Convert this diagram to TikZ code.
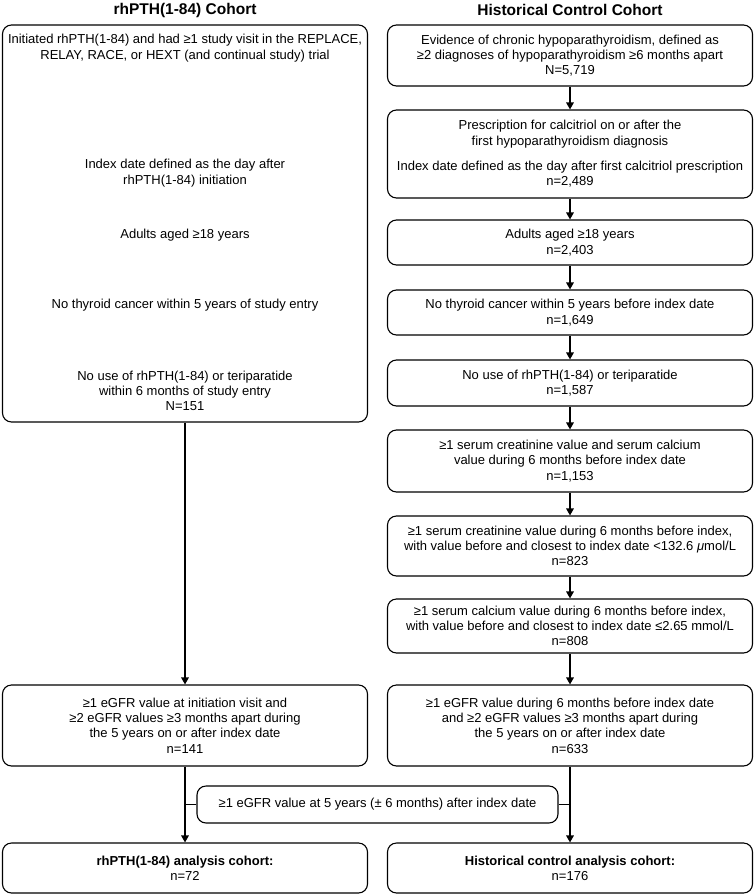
\documentclass[tikz,border=0pt]{standalone}
\usepackage{fontspec}
\setmainfont{Liberation Sans}
\usetikzlibrary{positioning, arrows.meta}

\begin{document}
\begin{tikzpicture}[x=1pt, y=-1pt, font=\fontsize{13}{15.3}\selectfont]

	\tikzstyle{head}=[font=\fontsize{15.5}{17}\selectfont\bfseries]
	\tikzstyle{box}=[draw, rounded corners=9pt, minimum width=365pt, inner sep=0pt, align=center, line width=1.1pt]
	\tikzstyle{txt}=[align=center, inner sep=0pt]
	\tikzstyle{arc}=[-{Triangle[length=7pt,width=7.5pt]}, line width=1.6pt]
	\tikzstyle{arc2}=[line width=1.6pt]

	\useasboundingbox (0,0) rectangle (755,894);

	% titres
	\node[head] (hl) at (185,10) {rhPTH(1-84) Cohort};
	\node[head] (hr) at (570,10) {Historical Control Cohort};

	% colonne gauche
	\node[box, minimum height=397pt] (lbig) at (185,223.5) {};
	\node[txt] (l1) at (185,48) {Initiated rhPTH(1-84) and had ≥1 study visit in the REPLACE,\\ RELAY, RACE, or HEXT (and continual study) trial};
	\node[txt] (l2) at (185,173) {Index date defined as the day after\\ rhPTH(1-84) initiation};
	\node[txt] (l3) at (185,235) {Adults aged ≥18 years};
	\node[txt] (l4) at (185,305) {No thyroid cancer within 5 years of study entry};
	\node[txt] (l5) at (185,391) {No use of rhPTH(1-84) or teriparatide\\ within 6 months of study entry\\ N=151};
	\node[box, minimum height=81pt] (l9) at (185,725.5) {≥1 eGFR value at initiation visit and\\ ≥2 eGFR values ≥3 months apart during\\ the 5 years on or after index date\\ n=141};
	\node[box, minimum height=50pt] (lfin) at (185,868) {\textbf{rhPTH(1-84) analysis cohort:}\\ n=72};

	% colonne droite
	\node[box, minimum height=61pt] (b1) at (570,55.5) {Evidence of chronic hypoparathyroidism, defined as\\ ≥2 diagnoses of hypoparathyroidism ≥6 months apart\\ N=5,719};
	\node[box, minimum height=88pt] (b2) at (570,154) {Prescription for calcitriol on or after the\\ first hypoparathyroidism diagnosis\\[10pt] Index date defined as the day after first calcitriol prescription\\ n=2,489};
	\node[box, minimum height=45pt] (b3) at (570,242.5) {Adults aged ≥18 years\\ n=2,403};
	\node[box, minimum height=45pt] (b4) at (570,312.5) {No thyroid cancer within 5 years before index date\\ n=1,649};
	\node[box, minimum height=46pt] (b5) at (570,383) {No use of rhPTH(1-84) or teriparatide\\ n=1,587};
	\node[box, minimum height=62pt] (b6) at (570,461) {≥1 serum creatinine value and serum calcium\\ value during 6 months before index date\\ n=1,153};
	\node[box, minimum height=60pt] (b7) at (570,546) {≥1 serum creatinine value during 6 months before index,\\ with value before and closest to index date <132.6 \textit{μ}mol/L\\ n=823};
	\node[box, minimum height=54pt] (b8) at (570,626) {≥1 serum calcium value during 6 months before index,\\ with value before and closest to index date ≤2.65 mmol/L\\ n=808};
	\node[box, minimum height=81pt] (b9) at (570,725.5) {≥1 eGFR value during 6 months before index date\\ and ≥2 eGFR values ≥3 months apart during\\ the 5 years on or after index date\\ n=633};
	\node[box, minimum height=50pt] (rfin) at (570,868) {\textbf{Historical control analysis cohort:}\\ n=176};

	% exclusion commune
	\node[box, minimum width=361pt, minimum height=37pt] (excl) at (377.5,804.5) {≥1 eGFR value at 5 years (± 6 months) after index date};

	% fleches
	\draw[arc] (b1) -- (b2);
	\draw[arc] (b2) -- (b3);
	\draw[arc] (b3) -- (b4);
	\draw[arc] (b4) -- (b5);
	\draw[arc] (b5) -- (b6);
	\draw[arc] (b6) -- (b7);
	\draw[arc] (b7) -- (b8);
	\draw[arc] (b8) -- (b9);
	\draw[arc] (lbig) -- (l9);
	\draw[arc] (l9) -- (lfin);
	\draw[arc] (b9) -- (rfin);
	\draw[arc2] (excl.west) -- (excl.west -| l9);
	\draw[arc2] (excl.east) -- (excl.east -| b9);

\end{tikzpicture}
\end{document}
